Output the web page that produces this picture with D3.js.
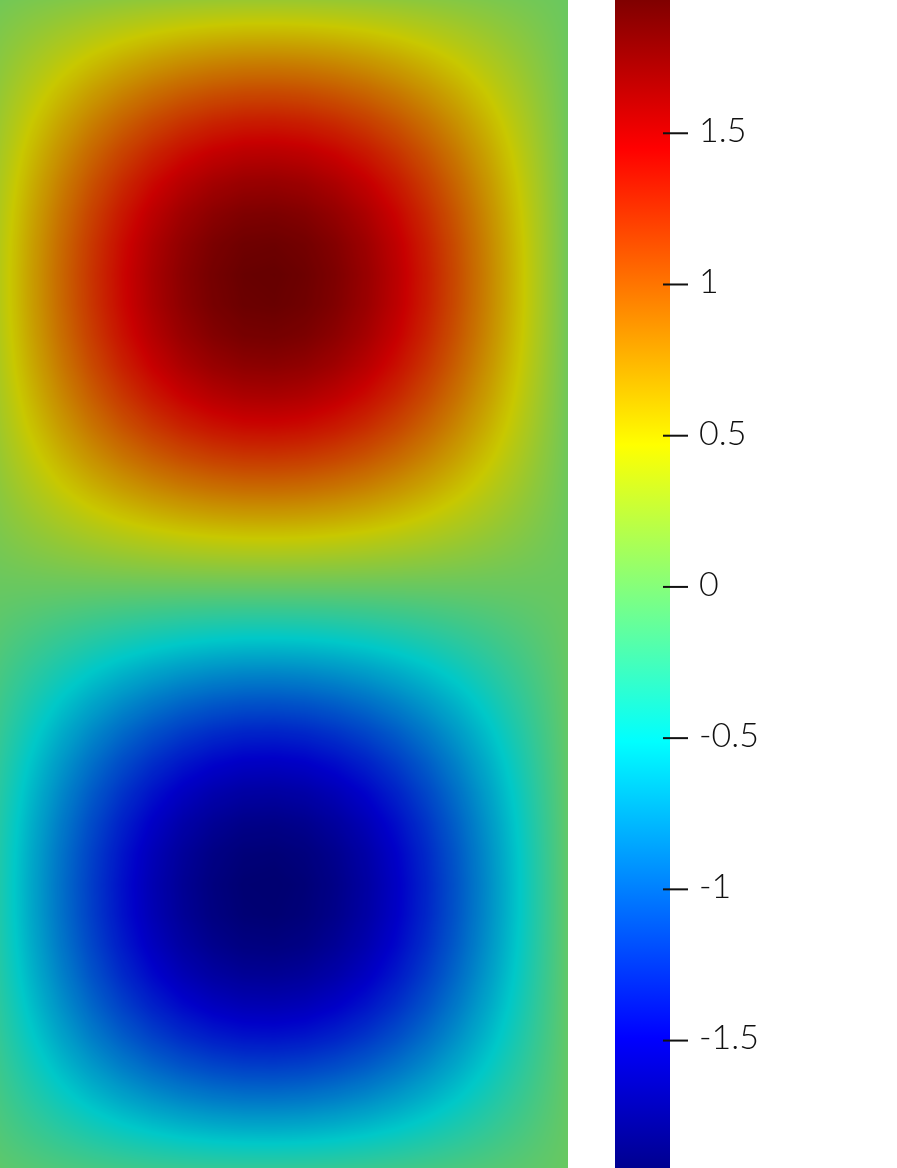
<!DOCTYPE html>
<html>
<head>
<meta charset="utf-8">
<script src="https://cdn.jsdelivr.net/npm/d3@7"></script>
<style>
  body { margin: 0; background: #fff; }
  #chart { position: relative; width: 897px; height: 1168px; }
  #chart canvas, #chart svg { position: absolute; left: 0; top: 0; }
</style>
</head>
<body>
<div id="chart"></div>
<script>
// field = peak * xProfile(x) * yProfile(y), profiles
// sample coordinates in mesh units (one cell = 1), y measured downward from the top of the view
var xSamples = [0, 0.05, 0.1, 0.15, 0.2, 0.25, 0.3, 0.35, 0.4, 0.45,
                0.5, 0.55, 0.6, 0.65, 0.7, 0.75, 0.8, 0.85, 0.9, 0.95];
var xProfile = [0.194, 0.346, 0.488, 0.619, 0.734, 0.831, 0.908, 0.962, 0.993, 0.999,
                0.981, 0.938, 0.873, 0.786, 0.679, 0.556, 0.419, 0.272, 0.118, -0.039];

var ySamples = [0, 0.05, 0.1, 0.15, 0.2, 0.25, 0.3, 0.35, 0.4, 0.45,
                0.5, 0.55, 0.6, 0.65, 0.7, 0.75, 0.8, 0.85, 0.9, 0.95,
                1, 1.05, 1.1, 1.15, 1.2, 1.25, 1.3, 1.35, 1.4, 1.45,
                1.5, 1.55, 1.6, 1.65, 1.7, 1.75, 1.8, 1.85, 1.9, 1.95];
var yProfile = [0.123, 0.277, 0.424, 0.560, 0.683, 0.789, 0.875, 0.940, 0.982, 0.999,
                0.992, 0.961, 0.906, 0.828, 0.731, 0.615, 0.484, 0.341, 0.190, 0.034,
                -0.123, -0.277, -0.424, -0.560, -0.683, -0.789, -0.875, -0.940, -0.982, -0.999,
                -0.992, -0.961, -0.906, -0.828, -0.731, -0.615, -0.484, -0.341, -0.190, -0.034];

var peak = 1.935;
var dataRange = [-1.923, 1.939];          // colour map range
var viewX = [0, 0.931], viewY = [0, 1.915];

// ParaView "Jet" preset (normalised positions -1..1)
var jetPos = [-1, -0.777778, -0.269841, -0.015873, 0.238095, 0.746032, 1];
var jetColors = ["#000090", "#0000ff", "#00ffff", "#80ff80", "#ffff00", "#ff0000", "#800000"];
var tickValues = [-1.5, -1, -0.5, 0, 0.5, 1, 1.5];

var width = 897,
    height = 1168,
    plotW = 568,
    shade = 0.784;          // surface lighting darkens the rendered field

var container = d3.select("#chart");

var norm = d3.scaleLinear().domain([-1, 1]).range(dataRange);
var color = d3.scaleLinear()
    .domain(jetPos.map(norm))
    .range(jetColors)
    .interpolate(d3.interpolateRgb)
    .clamp(true);

var x = d3.scaleLinear().domain(viewX).range([0, plotW]);
var y = d3.scaleLinear().domain(viewY).range([0, height]);
var fx = d3.scaleLinear().domain(xSamples).range(xProfile);
var gy = d3.scaleLinear().domain(ySamples).range(yProfile);

// colour lookup table
var lutN = 1024;
var lutScale = d3.scaleLinear().domain(dataRange).range([0, lutN - 1]).clamp(true);
var lut = d3.range(lutN).map(function(i) {
  return d3.rgb(color(lutScale.invert(i)));
});

// draw the field
var canvas = container.append("canvas")
    .attr("width", plotW)
    .attr("height", height);
var ctx = canvas.node().getContext("2d");
var img = ctx.createImageData(plotW, height);

var colVals = d3.range(plotW).map(function(px) { return fx(x.invert(px + 0.5)); });
var rowVals = d3.range(height).map(function(py) { return gy(y.invert(py + 0.5)); });

for (var j = 0; j < height; j++) {
  for (var i = 0; i < plotW; i++) {
    var v = peak * colVals[i] * rowVals[j];
    var c = lut[Math.round(lutScale(v))];
    var k = (j * plotW + i) * 4;
    img.data[k] = c.r * shade;
    img.data[k + 1] = c.g * shade;
    img.data[k + 2] = c.b * shade;
    img.data[k + 3] = 255;
  }
}
ctx.putImageData(img, 0, 0);

// colour bar
var svg = container.append("svg")
    .attr("width", width)
    .attr("height", height);

var cb = d3.scaleLinear().domain(dataRange).range([height, 0]);

var grad = svg.append("defs").append("linearGradient")
    .attr("id", "jet")
    .attr("gradientUnits", "userSpaceOnUse")
    .attr("x1", 0).attr("x2", 0)
    .attr("y1", 0).attr("y2", height);

// stops must run top to bottom, so highest value first
var stops = jetPos.map(function(p, i) { return { v: norm(p), c: jetColors[i] }; })
    .sort(function(a, b) { return b.v - a.v; });

grad.selectAll("stop")
    .data(stops)
  .enter().append("stop")
    .attr("offset", function(d) { return cb(d.v) / height; })
    .attr("stop-color", function(d) { return d.c; });

svg.append("rect")
    .attr("x", 615)
    .attr("y", 0)
    .attr("width", 55)
    .attr("height", height)
    .attr("fill", "url(#jet)");

var axis = d3.axisRight(cb)
    .tickValues(tickValues)
    .tickSize(25)
    .tickPadding(11)
    .tickFormat(function(d) { return String(d); });

var g = svg.append("g")
    .attr("transform", "translate(663,0)")
    .call(axis);

g.select(".domain").remove();
g.selectAll(".tick line")
    .attr("stroke", "#111")
    .attr("stroke-width", 2);
g.selectAll(".tick text")
    .attr("dy", "0.26em")
    .attr("fill", "#111")
    .style("font-family", "Lato, 'Open Sans', sans-serif")
    .style("font-weight", 300)
    .style("font-size", "34px");
</script>
</body>
</html>
